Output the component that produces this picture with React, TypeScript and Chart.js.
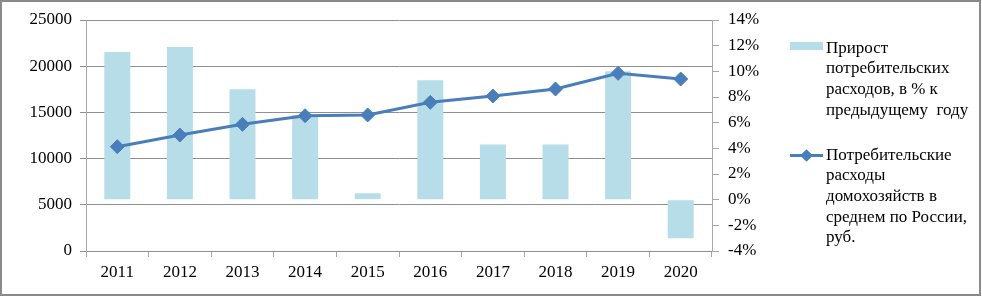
import React, { useEffect, useRef } from "react";
import { Chart, registerables } from "chart.js";

Chart.register(...registerables);

const years = ["2011", "2012", "2013", "2014", "2015", "2016", "2017", "2018", "2019", "2020"];
const growthPct = [11.5, 11.9, 8.6, 6.6, 0.5, 9.3, 4.3, 4.3, 10.0, -3.0];
const spending = [11290, 12550, 13710, 14640, 14720, 16090, 16770, 17530, 19230, 18610];
const leftTicks = [0, 5000, 10000, 15000, 20000, 25000];
const rightTicks = [-4, -2, 0, 2, 4, 6, 8, 10, 12, 14];
const barLabelLines = ["Прирост", "потребительских", "расходов, в % к", "предыдущему  году"];
const lineLabelLines = ["Потребительские", "расходы", "домохозяйств в", "среднем по России,", "руб."];

const FONT = '"Liberation Serif", "Times New Roman", serif';
const BAR_COLOR = "#b7dde8";
const LINE_COLOR = "#4a7ebb";
const GRID_COLOR = "#8f8f8f";
const AXIS_COLOR = "#a8a8a8";

export default function App() {
  const ref = useRef<HTMLCanvasElement | null>(null);

  useEffect(() => {
    if (!ref.current) return;
    const chart = new Chart(ref.current, {
      type: "bar",
      data: {
        labels: years,
        datasets: [
          {
            type: "line",
            label: lineLabelLines.join(" "),
            data: spending,
            yAxisID: "y",
            borderColor: LINE_COLOR,
            backgroundColor: LINE_COLOR,
            borderWidth: 3,
            pointStyle: "rectRot",
            pointRadius: 7,
            pointBorderWidth: 1,
            tension: 0,
            order: 0,
          } as any,
          {
            type: "bar",
            label: barLabelLines.join(" "),
            data: growthPct,
            yAxisID: "y1",
            backgroundColor: BAR_COLOR,
            barPercentage: 0.415,
            categoryPercentage: 1,
            order: 1,
          } as any,
        ],
      },
      options: {
        responsive: false,
        animation: false,
        devicePixelRatio: 1,
        layout: { padding: { top: 20, left: 0, right: 0, bottom: 0 } },
        plugins: { legend: { display: false }, tooltip: { enabled: false } },
        scales: {
          x: {
            type: "category",
            grid: {
              display: true,
              drawOnChartArea: false,
              drawTicks: true,
              tickLength: 6,
              offset: true,
              color: AXIS_COLOR,
            },
            border: { color: GRID_COLOR },
            ticks: { color: "#000", font: { family: FONT, size: 17 }, padding: 5, maxRotation: 0 },
            afterFit: (s: any) => {
              s.height = 45;
            },
          },
          y: {
            type: "linear",
            position: "left",
            min: 0,
            max: 25000,
            afterBuildTicks: (s: any) => {
              s.ticks = leftTicks.map((v) => ({ value: v }));
            },
            grid: { color: GRID_COLOR, tickLength: 6 },
            border: { color: AXIS_COLOR },
            ticks: {
              color: "#000",
              font: { family: FONT, size: 17 },
              padding: 8,
              callback: (v: any) => String(v),
            },
            afterFit: (s: any) => {
              s.width = 86;
            },
          },
          y1: {
            type: "linear",
            position: "right",
            min: -4,
            max: 14,
            afterBuildTicks: (s: any) => {
              s.ticks = rightTicks.map((v) => ({ value: v }));
            },
            grid: { drawOnChartArea: false, color: AXIS_COLOR, tickLength: 7 },
            border: { color: AXIS_COLOR },
            ticks: {
              color: "#000",
              font: { family: FONT, size: 17 },
              padding: 9,
              callback: (v: any) => v + "%",
            },
            afterFit: (s: any) => {
              s.width = 68;
            },
          },
        },
      },
    });
    return () => chart.destroy();
  }, []);

  const textStyle: React.CSSProperties = {
    position: "absolute",
    fontFamily: FONT,
    fontSize: 17,
    lineHeight: "20.7px",
    color: "#000",
    whiteSpace: "pre",
  };

  return (
    <div
      style={{
        position: "fixed",
        left: 0,
        top: 0,
        width: 982,
        height: 296,
        background: "#fff",
        overflow: "hidden",
      }}
    >
      <canvas
        ref={ref}
        width={780}
        height={296}
        style={{ position: "absolute", left: 0, top: 0, width: 780, height: 296 }}
      />
      <div
        style={{
          position: "absolute",
          left: 0,
          top: 0,
          width: 981,
          height: 296,
          boxSizing: "border-box",
          border: "2px solid #8a8a8a",
          pointerEvents: "none",
        }}
      />
      <div style={{ position: "absolute", left: 790, top: 42, width: 33, height: 8, background: BAR_COLOR }} />
      <div style={{ ...textStyle, left: 826, top: 37.5 }}>{barLabelLines.join("\n")}</div>
      <div style={{ position: "absolute", left: 790, top: 153.5, width: 33, height: 3, background: LINE_COLOR }} />
      <div
        style={{
          position: "absolute",
          left: 802,
          top: 150.5,
          width: 9,
          height: 9,
          background: LINE_COLOR,
          transform: "rotate(45deg)",
        }}
      />
      <div style={{ ...textStyle, left: 826, top: 144.6 }}>{lineLabelLines.join("\n")}</div>
    </div>
  );
}
